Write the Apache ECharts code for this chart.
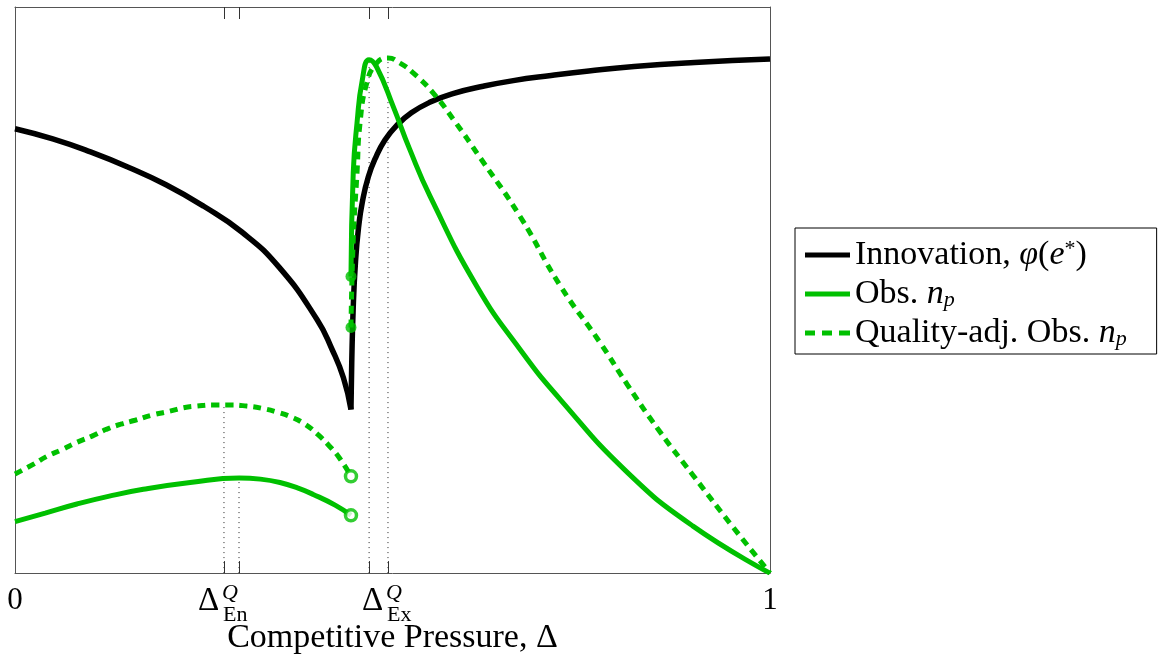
<!DOCTYPE html>
<html><head><meta charset="utf-8">
<script src="https://cdn.jsdelivr.net/npm/echarts@6/dist/echarts.min.js"></script>
<style>html,body{margin:0;padding:0;background:#fff}#c{width:1163px;height:660px}</style>
</head><body><div id="c"></div>
<script>
// ---- data ----
const innovLeft = [[0,0.785],[0.05,0.767],[0.10,0.744],[0.15,0.717],[0.20,0.686],[0.25,0.648],[0.30,0.603],[0.35,0.540],[0.40,0.448],[0.42,0.395],[0.435,0.345],[0.445,0.289]];
const innovRight = [[0.445,0.289],[0.446,0.37],[0.448,0.47],[0.451,0.55],[0.455,0.61],[0.46,0.655],[0.468,0.700],[0.478,0.735],[0.49,0.765],[0.505,0.790],[0.525,0.813],[0.55,0.832],[0.58,0.847],[0.62,0.860],[0.66,0.870],[0.71,0.879],[0.76,0.887],[0.82,0.895],[0.90,0.902],[1,0.908]];
const obsLeft = [[0,0.091],[0.040,0.106],[0.082,0.122],[0.125,0.136],[0.170,0.148],[0.232,0.160],[0.297,0.168],[0.325,0.166],[0.351,0.160],[0.375,0.150],[0.395,0.139],[0.424,0.120],[0.445,0.102]];
const obsRight = [[0.445,0.524],[0.448,0.707],[0.453,0.795],[0.460,0.871],[0.469,0.907],[0.479,0.894],[0.501,0.824],[0.523,0.748],[0.550,0.665],[0.612,0.506],[0.669,0.395],[0.722,0.307],[0.811,0.178],[0.898,0.083],[1,0]];
const qualLeft = [[0,0.175],[0.024,0.192],[0.042,0.206],[0.062,0.218],[0.082,0.231],[0.102,0.242],[0.121,0.254],[0.140,0.263],[0.159,0.270],[0.181,0.279],[0.205,0.286],[0.223,0.292],[0.241,0.295],[0.262,0.297],[0.285,0.297],[0.307,0.295],[0.327,0.291],[0.348,0.284],[0.367,0.275],[0.384,0.263],[0.401,0.245],[0.416,0.225],[0.430,0.203],[0.445,0.171]];
const qualRight = [[0.445,0.434],[0.448,0.589],[0.453,0.707],[0.457,0.795],[0.466,0.866],[0.479,0.901],[0.494,0.910],[0.510,0.901],[0.527,0.884],[0.554,0.848],[0.583,0.797],[0.616,0.734],[0.669,0.630],[0.722,0.508],[0.775,0.407],[0.811,0.333],[0.854,0.250],[0.898,0.173],[0.947,0.088],[1,0]];
const openMarks = [[0.445,0.102],[0.445,0.171]];
const filledMarks = [[0.445,0.524],[0.445,0.434]];
const critX = [0.2768, 0.2967, 0.469, 0.494];
const critY = [0.297, 0.168, 0.907, 0.910];
const tickLabels = ['0', '1'];
const critLabels = [{x: 0.2768, sup: 'Q', sub: 'En'}, {x: 0.494, sup: 'Q', sub: 'Ex'}];
const seriesNames = ['Innovation, φ(e*)', 'Obs. n_p', 'Quality-adj. Obs. n_p'];
const legendRich = {
  'Innovation, φ(e*)': 'Innovation, {i|φ}({i|e}{sup|*})',
  'Obs. n_p': 'Obs. {i|n}{sub|p}',
  'Quality-adj. Obs. n_p': 'Quality-adj. Obs. {i|n}{sub|p}'
};

const FONT = 'Liberation Serif';
const GREEN = '#00c000';
const SOLID_ICON = 'path://M0,0h45v5h-45z';
const DASH_ICON = 'path://M0,0h10v5h-10zM17,0h10v5h-10zM34,0h11v5h-11z';
const chart = echarts.init(document.getElementById('c'), null, {renderer: 'canvas'});

const series = [];
critX.forEach((x, i) => {
  series.push({type: 'line', name: 'crit' + i, data: [[x, 0], [x, critY[i]]], symbol: 'none', silent: true,
    lineStyle: {color: '#222', width: 1, type: [1, 4]}, z: 1});
});
[innovLeft, innovRight].forEach(d => series.push({type: 'line', name: seriesNames[0], data: d, symbol: 'none', smooth: 0.5,
  lineStyle: {color: '#000', width: 5.5}, itemStyle: {color: '#000'}, z: 2}));
[obsLeft, obsRight].forEach(d => series.push({type: 'line', name: seriesNames[1], data: d, symbol: 'none', smooth: 0.5,
  lineStyle: {color: GREEN, width: 5}, itemStyle: {color: GREEN}, z: 3}));
[qualLeft, qualRight].forEach(d => series.push({type: 'line', name: seriesNames[2], data: d, symbol: 'none', smooth: 0.5,
  lineStyle: {color: GREEN, width: 5, type: [8, 6]}, itemStyle: {color: GREEN}, z: 3}));
series.push({type: 'scatter', name: 'open', data: openMarks, symbol: 'circle', symbolSize: 11,
  itemStyle: {color: '#fff', borderColor: GREEN, borderWidth: 3.5}, z: 5});
series.push({type: 'scatter', name: 'filled', data: filledMarks, symbol: 'circle', symbolSize: 11,
  itemStyle: {color: GREEN}, z: 5});

const axisLineStyle = {show: true, onZero: false, lineStyle: {color: '#555', width: 1}};
chart.setOption({
  animation: false,
  backgroundColor: '#fff',
  grid: {left: 15, right: 393, top: 7, bottom: 86, containLabel: false},
  xAxis: [{
    type: 'value', min: 0, max: 1, interval: 1, position: 'bottom',
    axisLine: axisLineStyle, splitLine: {show: false},
    axisTick: {show: true, inside: true, length: 12, customValues: critX, lineStyle: {color: '#333'}},
    axisLabel: {show: true, margin: 12, fontFamily: FONT, fontSize: 31, color: '#000',
      formatter: v => (v === 0 ? tickLabels[0] : tickLabels[1])},
    name: 'Competitive Pressure, Δ', nameLocation: 'middle', nameGap: 44,
    nameTextStyle: {fontFamily: FONT, fontSize: 34, color: '#000'}
  }, {
    type: 'value', min: 0, max: 1, interval: 1, position: 'top',
    axisLine: axisLineStyle, splitLine: {show: false},
    axisTick: {show: true, inside: true, length: 12, customValues: critX, lineStyle: {color: '#333'}},
    axisLabel: {show: false}
  }],
  yAxis: [{type: 'value', min: 0, max: 1, position: 'left', axisLine: axisLineStyle, axisTick: {show: false}, axisLabel: {show: false}, splitLine: {show: false}},
          {type: 'value', min: 0, max: 1, position: 'right', axisLine: axisLineStyle, axisTick: {show: false}, axisLabel: {show: false}, splitLine: {show: false}}],
  legend: {
    data: [
      {name: seriesNames[0], icon: SOLID_ICON, itemStyle: {color: '#000', borderWidth: 0}},
      {name: seriesNames[1], icon: SOLID_ICON, itemStyle: {color: GREEN, borderWidth: 0}},
      {name: seriesNames[2], icon: DASH_ICON, itemStyle: {color: GREEN, borderWidth: 0}}
    ],
    orient: 'vertical', left: 795, top: 228,
    borderColor: '#000', borderWidth: 1, borderRadius: 0, padding: [10, 30, 4, 10],
    itemWidth: 45, itemHeight: 5, itemGap: 5,
    lineStyle: {width: 0},
    formatter: n => legendRich[n],
    textStyle: {fontFamily: FONT, fontSize: 34, color: '#000', lineHeight: 34,
      rich: {
        i: {fontFamily: FONT, fontSize: 34, fontStyle: 'italic', color: '#000', lineHeight: 34},
        sup: {fontFamily: FONT, fontSize: 22, color: '#000', verticalAlign: 'top', lineHeight: 22},
        sub: {fontFamily: FONT, fontSize: 22, fontStyle: 'italic', color: '#000', verticalAlign: 'bottom', lineHeight: 22}
      }}
  },
  series: series
});

function placeCritLabels() {
  const y0 = chart.convertToPixel({yAxisIndex: 0}, 0);
  const elems = [];
  critLabels.forEach(c => {
    const px = chart.convertToPixel({xAxisIndex: 0}, c.x);
    elems.push({type: 'text', x: px - 26, y: y0 + 28, style: {text: 'Δ', font: '33px "' + FONT + '"', fill: '#000', textAlign: 'left', textVerticalAlign: 'middle'}});
    elems.push({type: 'text', x: px - 2, y: y0 + 20, style: {text: c.sup, font: 'italic 22px "' + FONT + '"', fill: '#000', textAlign: 'left', textVerticalAlign: 'middle'}});
    elems.push({type: 'text', x: px - 1, y: y0 + 42, style: {text: c.sub, font: '22px "' + FONT + '"', fill: '#000', textAlign: 'left', textVerticalAlign: 'middle'}});
  });
  chart.setOption({graphic: {elements: elems}});
}
placeCritLabels();
</script></body></html>
